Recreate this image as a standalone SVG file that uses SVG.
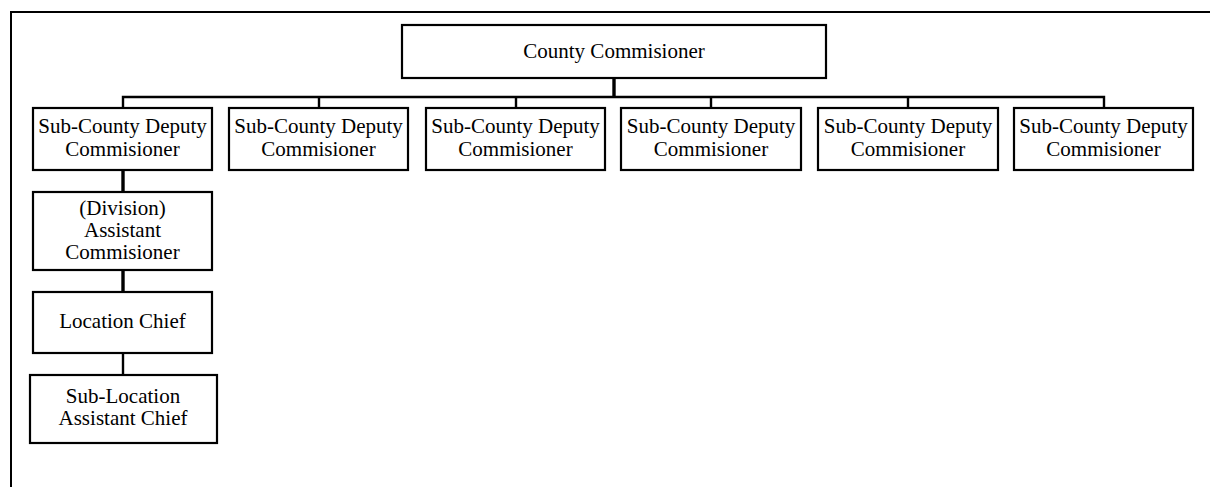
<svg xmlns="http://www.w3.org/2000/svg" width="1210" height="487" viewBox="0 0 1210 487">
  <style>
    .box { fill: #ffffff; stroke: #000000; stroke-width: 2.2; }
    .lbl { font-family: "Liberation Serif", "Times New Roman", serif; font-size: 21px; fill: #000000; text-anchor: middle; }
    .wire { fill: none; stroke: #000000; stroke-width: 2.4; }
    .stem { fill: none; stroke: #000000; stroke-width: 3.4; }
    .frame { fill: none; stroke: #000000; stroke-width: 2; }
  </style>
  <rect width="1210" height="487" fill="#ffffff"/>
  <!-- outer frame, open at the right and bottom -->
  <path class="frame" d="M11,487 V12 H1210"/>

  <g id="connectors">
    <line class="stem" x1="614" y1="78" x2="614" y2="97"/>
    <path class="wire" d="M123,108 V97 H1104 V108"/>
    <line class="wire" x1="319" y1="97" x2="319" y2="108"/>
    <line class="wire" x1="516" y1="97" x2="516" y2="108"/>
    <line class="wire" x1="711" y1="97" x2="711" y2="108"/>
    <line class="wire" x1="908" y1="97" x2="908" y2="108"/>
    <line class="stem" x1="123" y1="170" x2="123" y2="192"/>
    <line class="stem" x1="123" y1="270" x2="123" y2="292"/>
    <line class="wire" x1="123" y1="353" x2="123" y2="375"/>
  </g>

  <g id="county-commissioner">
    <rect class="box" x="402" y="25" width="424" height="53"/>
    <text class="lbl" x="614" y="58">County Commisioner</text>
  </g>

  <g id="deputy-1">
    <rect class="box" x="33" y="108" width="179" height="62"/>
    <text class="lbl" x="122.5" y="133">Sub-County Deputy</text>
    <text class="lbl" x="122.5" y="156">Commisioner</text>
  </g>
  <g id="deputy-2">
    <rect class="box" x="229" y="108" width="179" height="62"/>
    <text class="lbl" x="318.5" y="133">Sub-County Deputy</text>
    <text class="lbl" x="318.5" y="156">Commisioner</text>
  </g>
  <g id="deputy-3">
    <rect class="box" x="426" y="108" width="179" height="62"/>
    <text class="lbl" x="515.5" y="133">Sub-County Deputy</text>
    <text class="lbl" x="515.5" y="156">Commisioner</text>
  </g>
  <g id="deputy-4">
    <rect class="box" x="621" y="108" width="180" height="62"/>
    <text class="lbl" x="711" y="133">Sub-County Deputy</text>
    <text class="lbl" x="711" y="156">Commisioner</text>
  </g>
  <g id="deputy-5">
    <rect class="box" x="818" y="108" width="180" height="62"/>
    <text class="lbl" x="908" y="133">Sub-County Deputy</text>
    <text class="lbl" x="908" y="156">Commisioner</text>
  </g>
  <g id="deputy-6">
    <rect class="box" x="1014" y="108" width="179" height="62"/>
    <text class="lbl" x="1103.5" y="133">Sub-County Deputy</text>
    <text class="lbl" x="1103.5" y="156">Commisioner</text>
  </g>

  <g id="assistant-commissioner">
    <rect class="box" x="33" y="192" width="179" height="78"/>
    <text class="lbl" x="122.5" y="215">(Division)</text>
    <text class="lbl" x="122.5" y="237">Assistant</text>
    <text class="lbl" x="122.5" y="259">Commisioner</text>
  </g>

  <g id="location-chief">
    <rect class="box" x="33" y="292" width="179" height="61"/>
    <text class="lbl" x="122.5" y="328">Location Chief</text>
  </g>

  <g id="assistant-chief">
    <rect class="box" x="30" y="375" width="187" height="68"/>
    <text class="lbl" x="123" y="403">Sub-Location</text>
    <text class="lbl" x="123" y="425">Assistant Chief</text>
  </g>
</svg>
